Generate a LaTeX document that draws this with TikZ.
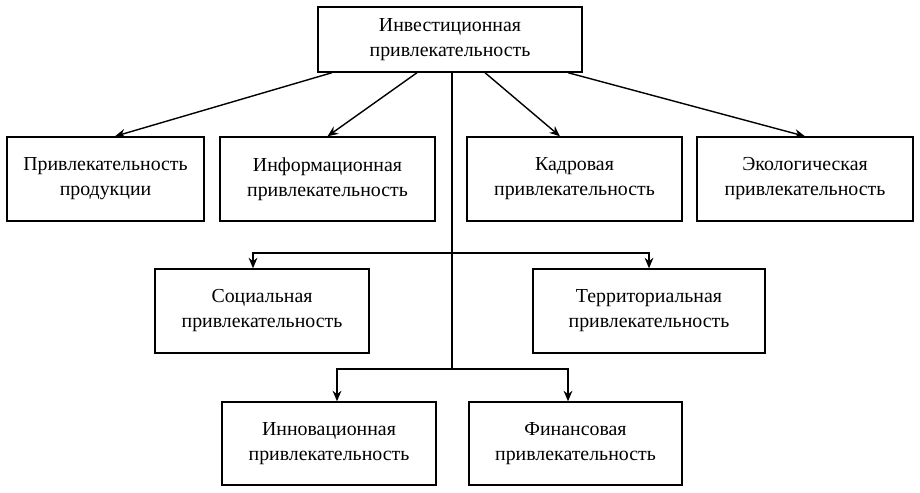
\documentclass[tikz,border=0pt]{standalone}
\usepackage{fontspec}
\setmainfont{Liberation Serif}
\usetikzlibrary{positioning}
\usetikzlibrary{arrows.meta}
\tikzset{
    block/.style = {rectangle,draw,line width=0.8pt,align=center,minimum height=1.68cm,inner sep=2pt,font=\fontsize{11.3}{14.2}\selectfont},
    arr/.style = {-{Stealth[length=6pt,width=5pt]},line width=0.8pt},
    link/.style = {line width=0.8pt}}

\begin{document}
\begin{tikzpicture}
        \useasboundingbox (0,0) rectangle (18.4,-9.84);
        \path (9.0,-0.79) node[block,minimum width=5.28cm,minimum height=1.3cm] (inv) {Инвестиционная\\привлекательность}
        (2.11,-3.58) node[block,minimum width=3.94cm] (prod) {Привлекательность\\продукции}
        (6.55,-3.58) node[block,minimum width=4.3cm] (info) {Информационная\\привлекательность}
        (11.49,-3.58) node[block,minimum width=4.3cm] (kadr) {Кадровая\\привлекательность}
        (16.1,-3.58) node[block,minimum width=4.32cm] (eco) {Экологическая\\привлекательность}
        (5.24,-6.22) node[block,minimum width=4.28cm] (soc) {Социальная\\привлекательность}
        (12.98,-6.22) node[block,minimum width=4.64cm] (terr) {Территориальная\\привлекательность}
        (6.58,-8.87) node[block,minimum width=4.28cm,minimum height=1.66cm] (innov) {Инновационная\\привлекательность}
        (11.51,-8.87) node[block,minimum width=4.26cm,minimum height=1.66cm] (fin) {Финансовая\\привлекательность};
        \coordinate (fork1) at (9.04,-5.06);
        \coordinate (fork2) at (9.04,-7.38);
        \draw[arr] ([xshift=-2.36cm]inv.south) -- ([xshift=0.19cm]prod.north);
        \draw[arr] ([xshift=-0.66cm]inv.south) -- (info.north);
        \draw[arr] ([xshift=0.7cm]inv.south) -- ([xshift=-0.29cm]kadr.north);
        \draw[arr] ([xshift=2.36cm]inv.south) -- (eco.north);
        \draw[link] ([xshift=0.04cm]inv.south) -- (fork2);
        \draw[arr] (fork1) -| ([xshift=-0.18cm]soc.north);
        \draw[arr] (fork1) -| (terr.north);
        \draw[arr] (fork2) -| ([xshift=0.16cm]innov.north);
        \draw[arr] (fork2) -| ([xshift=-0.15cm]fin.north);
\end{tikzpicture}
\end{document}
